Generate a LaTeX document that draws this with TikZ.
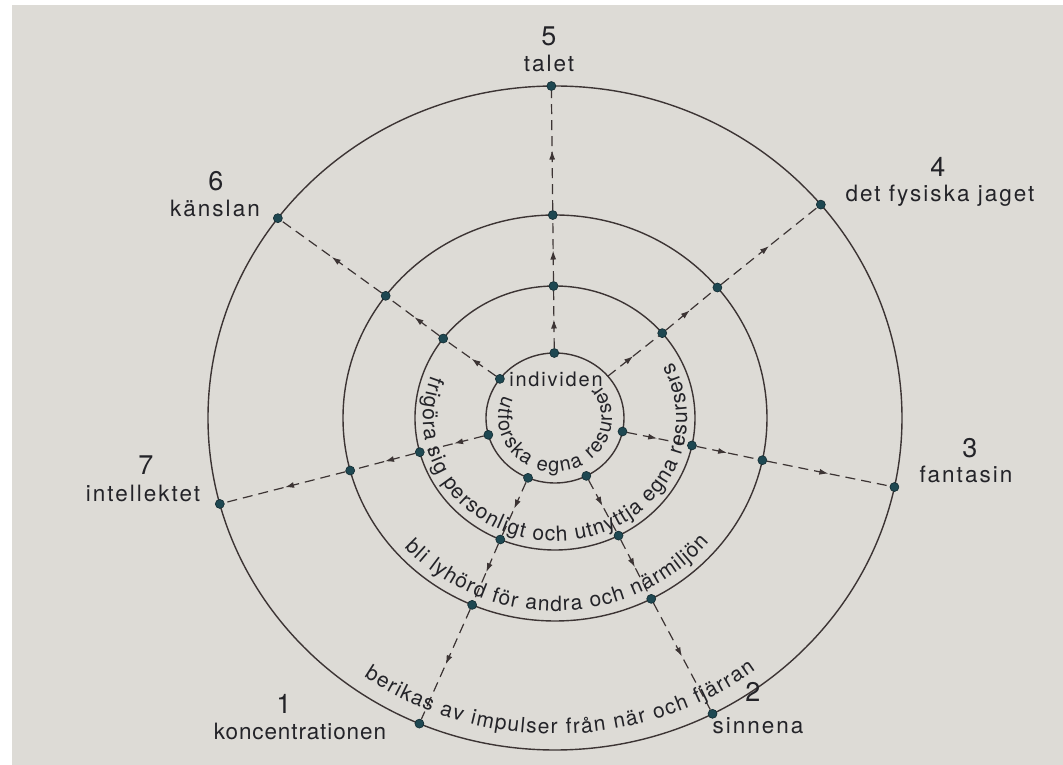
\documentclass[tikz,border=0pt]{standalone}
\usepackage{fontspec}
\setmainfont{TeX Gyre Heros}
\newfontfamily\labfont[LetterSpace=9]{TeX Gyre Heros}
\newfontfamily\labfontb[LetterSpace=4]{TeX Gyre Heros}
\usetikzlibrary{decorations.text,decorations.markings,arrows.meta}
\definecolor{bg}{RGB}{221,219,214}
\definecolor{ink}{RGB}{60,52,52}
\definecolor{dotc}{RGB}{30,72,82}
\definecolor{txt}{RGB}{35,35,40}
\begin{document}
\begin{tikzpicture}[x=1pt,y=1pt,
  circ/.style={draw=ink, line width=1.4pt},
  spoke/.style={draw=ink, line width=1.2pt, dash pattern=on 10pt off 6pt,
    postaction={decorate},
    decoration={markings, mark=at position 0.5 with {\arrow{Latex[length=9pt,width=6pt]}}}},
  dot/.style={circle, fill=dotc, draw=dotc!60!black, line width=0.6pt, inner sep=0pt, minimum size=9pt},
  lab/.style={font=\labfont\fontsize{22.5}{22.5}\selectfont, text=txt, anchor=base, inner sep=0pt},
  num/.style={font=\fontsize{27}{27}\selectfont, text=txt, anchor=base, inner sep=0pt},
  arctext/.style={decorate, decoration={text along path, text align=fit to path, text color=txt}}
]
\useasboundingbox (-555,-347) rectangle (508,418);
\fill[white] (-555,-347) rectangle (508,418);
\fill[bg] (-543,-347) rectangle (508,413);

% circles
\draw[circ] (0,0) ellipse [x radius=69, y radius=65];
\draw[circ] (0,0) ellipse [x radius=140, y radius=132];
\draw[circ] (0,0) ellipse [x radius=212, y radius=203];
\draw[circ] (0,0) ellipse [x radius=347, y radius=332];

% dots
\foreach \k/\a in {5/90.6, 6/143, 4/40, 3/-12, 7/195, 1/247, 2/-63} {
  \node[dot] (d\k c) at (\a:140 and 132) {};
  \node[dot] (d\k b) at (\a:212 and 203) {};
  \node[dot] (d\k a) at (\a:347 and 332) {};
}
\node[dot] (d5d) at (90.6:69 and 65) {};
\node[dot] (d6d) at (143:69 and 65) {};
\coordinate (d4d) at (40:69 and 65);
\node[dot] (d3d) at (-12:69 and 65) {};
\node[dot] (d7d) at (195:69 and 65) {};
\node[dot] (d1d) at (247:69 and 65) {};
\node[dot] (d2d) at (-63:69 and 65) {};

% spokes
\foreach \k in {5,6,4,3,7,1,2} {
  \draw[spoke] (d\k d) -- (d\k c);
  \draw[spoke] (d\k c) -- (d\k b);
  \draw[spoke] (d\k b) -- (d\k a);
}

% centre label
\node[lab, font=\labfont\fontsize{20}{20}\selectfont] (indiv) at (1,31) {individen};

% curved texts
\path[arctext, decoration={text={|\fontsize{20}{20}\selectfont|utforska egna resurser}}]
  (155:57 and 54) arc[start angle=155, end angle=398, x radius=57, y radius=54];
\path[arctext, decoration={text={|\fontsize{21}{21}\selectfont|frigöra sig personligt och utnyttja egna resursers}}]
  (160:132 and 123) arc[start angle=160, end angle=387, x radius=132, y radius=123];
\path[arctext, decoration={text={|\fontsize{21}{21}\selectfont|bli lyhörd för andra och närmiljön}}]
  (222:202 and 193) arc[start angle=222, end angle=320, x radius=202, y radius=193];
\path[arctext, decoration={text={|\fontsize{21}{21}\selectfont|berikas av impulser från när och fjärran}}]
  (235:333 and 316) arc[start angle=235, end angle=307, x radius=333, y radius=316];

% labels
\node[num] (n5) at (-6,372) {5};
\node[lab] (l5) at (-6,346) {talet};
\node[num] (n6) at (-339,227) {6};
\node[lab] (l6) at (-340,201) {känslan};
\node[num] (n4) at (383,241) {4};
\node[lab] (l4) at (385,216) {det fysiska jaget};
\node[num] (n7) at (-409,-57) {7};
\node[lab] (l7) at (-412,-84) {intellektet};
\node[num] (n3) at (415,-40) {3};
\node[lab] (l3) at (411,-65) {fantasin};
\node[num] (n1) at (-271,-295) {1};
\node[lab, font=\labfontb\fontsize{22.5}{22.5}\selectfont] (l1) at (-255,-321) {koncentrationen};
\node[num] (n2) at (198,-283) {2};
\node[lab] (l2) at (203,-315) {sinnena};
\end{tikzpicture}
\end{document}
